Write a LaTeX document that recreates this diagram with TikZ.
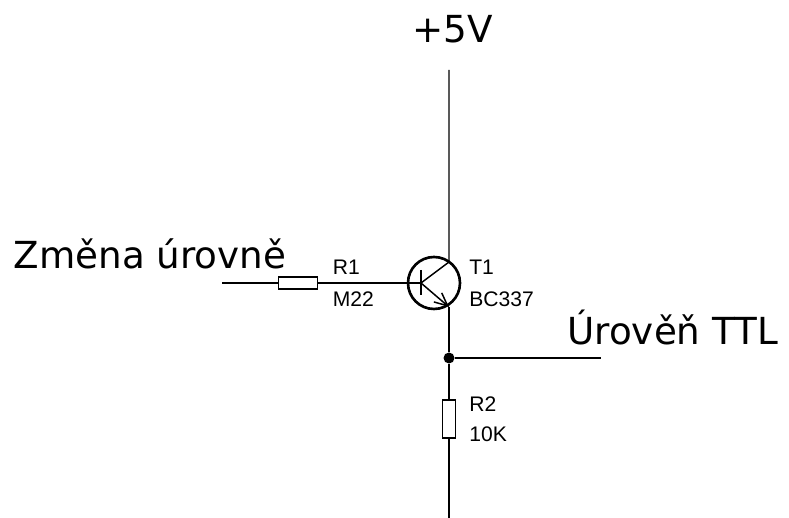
\documentclass[tikz,border=0pt]{standalone}
\usepackage{fontspec}
\setmainfont{Liberation Sans}
\newfontfamily\bigfont{DejaVu Sans}
\usetikzlibrary{arrows.meta}
\tikzset{
	wire/.style={line width=0.85pt},
	res/.style={draw, line width=0.85pt, fill=white, rectangle, inner sep=0pt},
	lab/.style={anchor=west, inner sep=0pt, font=\fontsize{12}{14}\selectfont},
	biglab/.style={anchor=west, inner sep=0pt, font=\fontsize{21.2}{25}\bigfont},
	dot/.style={circle, fill=black, inner sep=0pt, minimum size=0.22cm}
}

\begin{document}
\begin{tikzpicture}
	\useasboundingbox (0,0) rectangle (15.78,10.36);

	\coordinate (top) at (8.98,8.96);
	\coordinate (bottom) at (8.98,0);
	\coordinate (in) at (4.44,4.7);
	\coordinate (out) at (12.02,3.2);
	\coordinate (base) at (8.42,4.7);
	\coordinate (barup) at (8.42,4.96);
	\coordinate (bardown) at (8.42,4.46);
	\coordinate (coll) at (8.98,5.12);
	\coordinate (emit) at (8.98,4.22);

	\node[circle, draw, line width=1.5pt, inner sep=0pt, minimum size=1.04cm] (t1) at (8.68,4.7) {};
	\node[res, minimum width=0.77cm, minimum height=0.24cm] (r1) at (5.96,4.7) {};
	\node[res, minimum width=0.25cm, minimum height=0.76cm] (r2) at (8.98,1.98) {};
	\node[dot] (junction) at (8.98,3.2) {};

	\draw[wire] (in) -- (r1);
	\draw[wire] (r1) -- (base);
	\draw[line width=1.5pt] (barup) -- (bardown);
	\draw[wire] (top) -- (coll) -- (base);
	\draw[wire, -{Straight Barb[length=0.26cm,width=0.24cm]}] (base) -- (emit);
	\draw[wire] (emit) -- (junction);
	\draw[wire] (junction) -- (r2);
	\draw[wire] (r2) -- (bottom);
	\draw[wire] (junction) -- (out);

	\node[lab] (r1name) at (6.65,5.02) {R1};
	\node[lab] (r1val) at (6.65,4.38) {M22};
	\node[lab] (t1name) at (9.38,5.02) {T1};
	\node[lab] (t1type) at (9.38,4.38) {BC337};
	\node[lab] (r2name) at (9.38,2.28) {R2};
	\node[lab] (r2val) at (9.38,1.68) {10K};
	\node[biglab] (supply) at (8.24,9.78) {+5V};
	\node[biglab] (input) at (0.27,5.28) {Změna úrovně};
	\node[biglab] (output) at (11.34,3.81) {Úrověň TTL};
\end{tikzpicture}
\end{document}
